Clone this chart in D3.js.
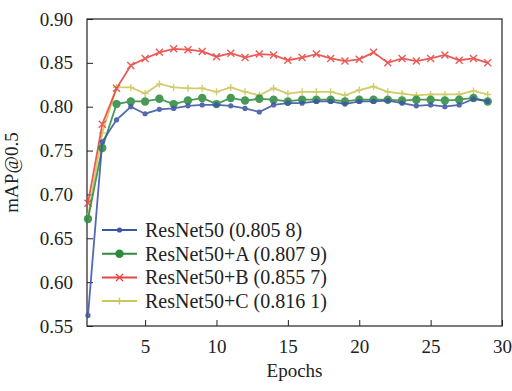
<!DOCTYPE html>
<html>
<head>
<meta charset="utf-8">
<script src="https://cdn.jsdelivr.net/npm/d3@7"></script>
<style>
  body { margin: 0; background: #fff; }
  text { font-family: "Liberation Serif", "Times New Roman", serif; fill: #222; }
</style>
</head>
<body>
<div id="chart"></div>
<script>
// Data (epochs 1..29)
const epochs = d3.range(1, 30);
const resnet50 = [0.562, 0.760, 0.785, 0.800, 0.792, 0.797, 0.798, 0.801, 0.802, 0.802, 0.801, 0.798, 0.794, 0.802, 0.804,
                  0.804, 0.806, 0.806, 0.803, 0.806, 0.806, 0.807, 0.804, 0.801, 0.802, 0.800, 0.802, 0.809, 0.806];
const resnetA  = [0.672, 0.753, 0.803, 0.806, 0.806, 0.809, 0.803, 0.807, 0.810, 0.803, 0.810, 0.807, 0.809, 0.808, 0.806,
                  0.808, 0.808, 0.808, 0.806, 0.808, 0.808, 0.808, 0.807, 0.808, 0.808, 0.807, 0.808, 0.810, 0.806];
const resnetB  = [0.690, 0.780, 0.821, 0.847, 0.855, 0.862, 0.866, 0.865, 0.863, 0.857, 0.861, 0.856, 0.860, 0.859, 0.853,
                  0.856, 0.860, 0.855, 0.852, 0.854, 0.862, 0.850, 0.855, 0.852, 0.855, 0.859, 0.853, 0.855, 0.850];
const resnetC  = [0.675, 0.770, 0.822, 0.822, 0.815, 0.826, 0.822, 0.821, 0.821, 0.817, 0.822, 0.817, 0.813, 0.821, 0.815,
                  0.817, 0.817, 0.817, 0.813, 0.819, 0.823, 0.817, 0.815, 0.813, 0.814, 0.814, 0.814, 0.818, 0.814];
const labels = ["ResNet50 (0.805 8)", "ResNet50+A (0.807 9)", "ResNet50+B (0.855 7)", "ResNet50+C (0.816 1)"];
const colors = ["#3c56a6", "#2f8a3f", "#e8453f", "#cdc65a"];
const markers = ["dot", "circle", "cross", "plus"];
const yTicks = [0.55, 0.60, 0.65, 0.70, 0.75, 0.80, 0.85, 0.90];
const xTicks = [5, 10, 15, 20, 25, 30];

const series = [resnet50, resnetA, resnetB, resnetC].map((vals, i) => ({
  name: labels[i], color: colors[i], marker: markers[i],
  values: vals.map((v, j) => ({ x: epochs[j], y: v }))
}));

const width = 512, height = 391;
const margin = { top: 19, right: 10, bottom: 65, left: 87 };

const svg = d3.select("#chart").append("svg")
  .attr("width", width).attr("height", height);

const x = d3.scaleLinear().domain([1, 30]).range([margin.left + 1, width - margin.right]);
const y = d3.scaleLinear().domain([0.55, 0.90]).range([height - margin.bottom, margin.top]);

// axes with inward ticks
svg.append("g")
  .attr("transform", `translate(0,${height - margin.bottom})`)
  .call(d3.axisBottom(x).tickValues(xTicks).tickSize(-6).tickPadding(14).tickFormat(d3.format("d")))
  .call(g => g.select(".domain").remove())
  .call(g => g.selectAll("text").attr("font-size", 19).style("font-family", "Liberation Serif"));

svg.append("g")
  .attr("transform", `translate(${margin.left},0)`)
  .call(d3.axisLeft(y).tickValues(yTicks).tickSize(-6).tickPadding(14).tickFormat(d3.format(".2f")))
  .call(g => g.select(".domain").remove())
  .call(g => g.selectAll("text").attr("font-size", 19).style("font-family", "Liberation Serif"));

svg.selectAll(".tick line").attr("stroke", "#222");

// frame
svg.append("rect")
  .attr("x", margin.left).attr("y", margin.top)
  .attr("width", width - margin.right - margin.left)
  .attr("height", height - margin.bottom - margin.top)
  .attr("fill", "none").attr("stroke", "#222").attr("stroke-width", 1.2);

const line = d3.line().x(d => x(d.x)).y(d => y(d.y));

function drawMarker(g, type, cx, cy, color) {
  if (type === "dot") {
    g.append("circle").attr("cx", cx).attr("cy", cy).attr("r", 2.6).attr("fill", color);
  } else if (type === "circle") {
    g.append("circle").attr("cx", cx).attr("cy", cy).attr("r", 4.2).attr("fill", color);
  } else if (type === "cross") {
    const s = 3.5;
    g.append("path").attr("d", `M${cx - s},${cy - s}L${cx + s},${cy + s}M${cx - s},${cy + s}L${cx + s},${cy - s}`)
      .attr("stroke", color).attr("stroke-width", 1.4);
  } else {
    const s = 3.5;
    g.append("path").attr("d", `M${cx - s},${cy}L${cx + s},${cy}M${cx},${cy - s}L${cx},${cy + s}`)
      .attr("stroke", color).attr("stroke-width", 1.4);
  }
}

// draw in order C, B, A, base so blue/green end on top like the figure
[3, 2, 1, 0].forEach(i => {
  const s = series[i];
  const g = svg.append("g").attr("opacity", 0.88);
  g.append("path").datum(s.values)
    .attr("d", line).attr("fill", "none")
    .attr("stroke", s.color).attr("stroke-width", 1.8);
  s.values.forEach(d => drawMarker(g, s.marker, x(d.x), y(d.y), s.color));
});

// legend
const legend = svg.append("g").attr("transform", "translate(102,230)");
series.forEach((s, i) => {
  const row = legend.append("g").attr("transform", `translate(0,${i * 23.7})`);
  row.append("line").attr("x1", 0).attr("x2", 35).attr("y1", 0).attr("y2", 0)
    .attr("stroke", s.color).attr("stroke-width", 2);
  drawMarker(row, s.marker, 17.5, 0, s.color);
  row.append("text").attr("x", 43).attr("y", 0).attr("dy", "0.35em")
    .attr("font-size", 20).text(s.name);
});

// axis titles
svg.append("text")
  .attr("x", (margin.left + width - margin.right) / 2).attr("y", 377)
  .attr("text-anchor", "middle").attr("font-size", 19).text("Epochs");

svg.append("text")
  .attr("transform", `translate(18,${(margin.top + height - margin.bottom) / 2}) rotate(-90)`)
  .attr("text-anchor", "middle").attr("font-size", 19).text("mAP@0.5");
</script>
</body>
</html>
